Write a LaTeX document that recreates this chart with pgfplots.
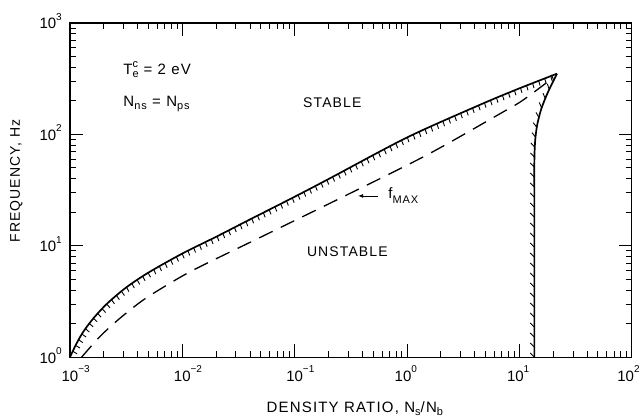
\documentclass[border=0pt]{standalone}
\usepackage{pgfplots}
\pgfplotsset{compat=1.18}
\usepackage{fontspec}
\setmainfont{Liberation Sans}
\newfontfamily\lab[LetterSpace=8]{Liberation Sans}
\usetikzlibrary{decorations.pathreplacing,arrows.meta}
% tick label: digits centred on tick (optionally shifted left), exponent hanging right
\newcommand{\xtl}[2][0pt]{\hspace*{#1}10\rlap{\raisebox{8.5pt}{\fontsize{10}{10}\selectfont #2}}}
\newcommand{\ytl}[1]{10\raisebox{8.5pt}{\fontsize{10}{10}\selectfont #1}}
\newcommand{\sub}[1]{\raisebox{-3pt}{\fontsize{11}{11}\selectfont #1}}
\pgfplotstableread{
x y
0.001 1
0.001148 1.334
0.001318 1.698
0.001622 2.239
0.002138 3.020
0.003162 4.217
0.005012 5.754
0.01 8.511
0.01995 12.02
0.03981 17.18
0.1 27.54
0.2056 40.27
1 93.76
4.446 184.1
8.79 245.5
12.39 281.8
21.63 350.8
}\upper
\pgfplotstableread{
x y
13.6 1
13.6 10
13.6 30
13.6 56.6
13.8 85.5
14.4 121
15.7 170
18.0 240
21.63 350.8
}\right
\pgfplotstableread{
x y
0.001271 1
0.001849 1.531
0.002786 2.234
0.004487 3.258
0.007762 4.603
0.01340 6.266
0.0501 11.97
0.2523 26.61
1.489 65.01
7.161 158.9
10.72 202.3
18.62 305.5
}\fmax
\begin{document}
\begin{tikzpicture}
\begin{axis}[name=ax, xmode=log, ymode=log, scale only axis,
  width=562pt, height=334.3pt,
  xmin=1e-3, xmax=1e2, ymin=1, ymax=1e3,
  xtick={1e-3,1e-2,1e-1,1,10,100},
  xticklabels={\xtl{−3},\xtl{−2},\xtl{−1},\xtl[-8pt]{0},\xtl[-8pt]{1},\xtl[-12pt]{2}},
  ytick={1,10,100,1000},
  yticklabels={\ytl{0},\ytl{1},\ytl{2},\ytl{3}},
  minor xtick={2e-3,3e-3,4e-3,5e-3,6e-3,7e-3,8e-3,9e-3,2e-2,3e-2,4e-2,5e-2,6e-2,7e-2,8e-2,9e-2,0.2,0.3,0.4,0.5,0.6,0.7,0.8,0.9,2,3,4,5,6,7,8,9,20,30,40,50,60,70,80,90},
  minor ytick={2,3,4,5,6,7,8,9,20,30,40,50,60,70,80,90,200,300,400,500,600,700,800,900},
  tick align=inside, major tick length=13pt, minor tick length=6pt,
  every tick/.style={line width=0.9pt, black},
  axis line style={line width=1.2pt},
  xticklabel style={anchor=base, inner sep=0pt, yshift=-24pt, font=\fontsize{15}{15}\selectfont},
  yticklabel style={anchor=base east, inner sep=0pt, xshift=-8pt, yshift=-6pt, font=\fontsize{15}{15}\selectfont},
  xlabel={DENSITY RATIO, N\sub{s}/N\sub{b}},
  xlabel style={at={(axis description cs:0.507,-0.1666)}, anchor=base, font=\lab\fontsize{15}{15}\selectfont},
  ylabel={FREQUENCY, Hz},
  ylabel style={at={(axis description cs:-0.089,0.527)}, anchor=base, font=\lab\fontsize{14}{14}\selectfont},
]
% dashed f_MAX curve
\addplot[black, line width=1.3pt, dash pattern=on 15pt off 9pt, smooth] table {\fmax};
% upper stability boundary
\addplot[black, line width=1.7pt, smooth] table {\upper};
\addplot[draw=none, postaction={decorate, draw=black, line width=0.9pt,
  decoration={border, segment length=6.5pt, amplitude=5pt, angle=-95}}] table {\upper};
% right stability boundary
\addplot[black, line width=1.7pt, smooth] table {\right};
\addplot[draw=none, postaction={decorate, draw=black, line width=0.9pt,
  decoration={border, segment length=10pt, amplitude=6pt, angle=45}}] table {\right};
\node[anchor=base west, font=\lab\fontsize{15}{15}\selectfont] at (rel axis cs:0.089,0.8445)
  {T\rlap{\raisebox{-3pt}{\fontsize{11}{11}\selectfont e}}\raisebox{7pt}{\fontsize{11}{11}\selectfont c} = 2 eV};
\node[anchor=base west, font=\lab\fontsize{15}{15}\selectfont] at (rel axis cs:0.089,0.7487)
  {N\sub{ns} = N\sub{ps}};
\node[anchor=base, font=\lab\fontsize{14}{14}\selectfont] at (rel axis cs:0.467,0.7457) {STABLE};
\node[anchor=base, font=\lab\fontsize{14}{14}\selectfont] at (rel axis cs:0.4938,0.300) {UNSTABLE};
\node[anchor=base west, font=\lab\fontsize{15}{15}\selectfont] at (rel axis cs:0.5605,0.4735)
  {f\raisebox{-5pt}{\fontsize{11}{11}\selectfont MAX}};
\draw[line width=0.8pt, -{Latex[length=5pt,width=4pt]}] (rel axis cs:0.548,0.4825) -- (rel axis cs:0.513,0.4825);
\end{axis}
\pgfresetboundingbox
\path[use as bounding box] ([shift={(-70pt,-60.7pt)}]ax.south west) rectangle ([shift={(11.3pt,23pt)}]ax.north east);
\end{tikzpicture}
\end{document}
